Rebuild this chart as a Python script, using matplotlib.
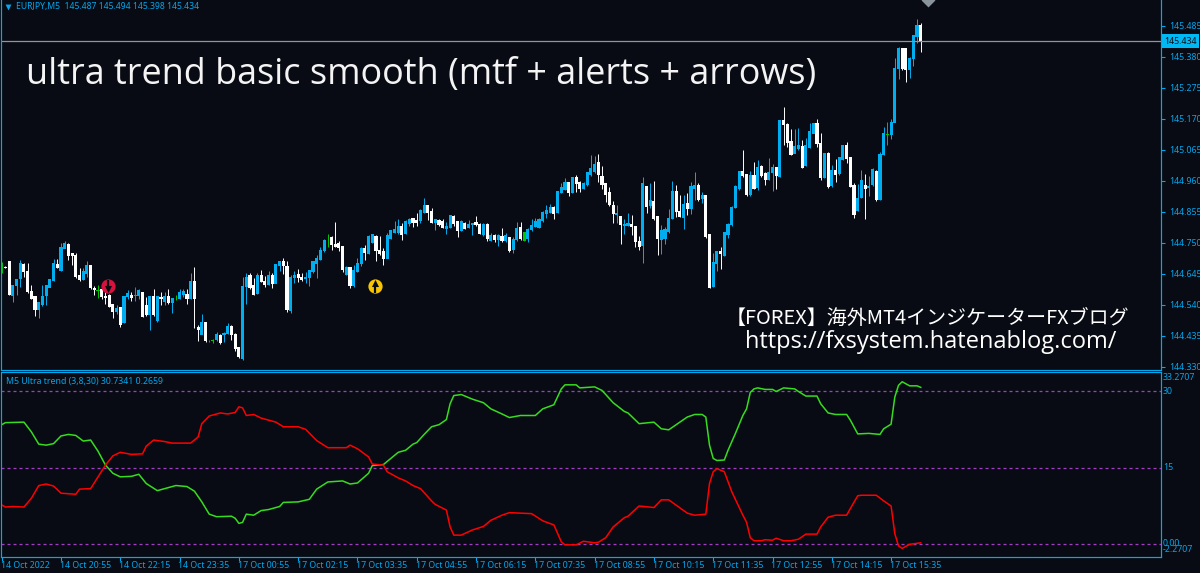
import matplotlib
matplotlib.use('Agg')
import numpy as np
import matplotlib.pyplot as plt

# candle data, in points above 144.000 (1 point = 0.001), bars 0..248
open_pts = [667,668,686,569,603,629,678,652,587,570,522,539,570,599,621,677,655,731,746,716,
            708,640,626,646,674,595,589,592,570,573,542,516,531,479,567,573,571,569,582,539,
            505,570,486,564,550,567,547,563,561,573,575,559,618,465,440,482,417,419,420,437,
            437,443,468,440,397,358,601,641,607,576,641,620,609,641,613,671,689,671,520,630,
            643,633,628,632,652,678,694,722,766,769,746,750,737,641,667,605,652,678,733,714,
            752,773,726,720,697,765,784,784,807,782,816,833,825,824,852,878,856,819,827,824,
            799,802,841,822,791,816,801,810,819,813,776,813,757,774,760,773,756,769,726,760,
            802,757,765,793,805,802,824,850,852,872,852,920,931,954,920,971,954,935,946,980,
            991,1023,974,952,921,878,845,839,808,808,814,807,756,739,940,875,892,839,762,765,
            788,833,923,856,836,884,867,935,946,901,910,779,601,680,720,706,776,810,869,932,
            991,982,912,980,937,1008,986,965,986,1006,974,1164,1152,1093,1053,1070,1078,1010,1074,1121,
            1155,1089,972,1053,944,997,983,1033,1082,1039,946,859,904,946,938,946,993,897,1049,1117,
            1115,1158,1339,1409,1409,1338,1373,1449,1487]
close_pts = [667,667,573,607,627,680,652,584,561,522,547,570,607,627,680,665,736,748,705,705,
             635,626,652,674,599,592,589,567,565,533,518,527,474,567,578,565,571,590,501,505,
             567,505,567,560,570,547,561,563,582,584,559,618,561,457,482,418,417,419,440,411,
             443,468,440,392,364,604,633,599,575,641,618,607,641,613,678,688,671,522,633,641,
             630,626,633,656,686,697,726,759,766,745,737,735,658,667,604,658,680,733,718,771,
             779,722,714,697,776,793,796,807,776,822,831,819,819,859,878,852,818,830,810,802,
             805,842,816,791,822,799,813,816,810,782,814,763,774,762,776,756,774,722,762,798,
             763,785,797,810,824,831,852,859,872,848,926,938,955,920,972,952,935,952,988,1002,
             1017,980,948,912,878,848,850,810,814,816,805,754,737,952,872,893,830,765,793,796,
             833,923,856,839,881,867,940,946,897,912,771,598,683,720,712,784,814,869,940,994,
             976,912,980,935,1006,976,965,988,1006,976,1166,1149,1091,1048,1076,1082,1006,1082,1127,1155,
             1087,972,1053,940,995,980,1039,1079,1036,940,844,901,961,932,943,1000,895,1051,1121,1117,
             1158,1341,1411,1339,1336,1375,1452,1488,1434]
high_pts = [686,670,686,607,627,691,680,680,607,570,547,607,607,627,694,694,750,756,748,716,
            714,663,663,689,674,603,607,607,584,578,542,539,531,569,590,584,599,592,584,567,
            569,595,569,582,584,592,561,573,592,592,592,646,669,471,508,482,420,423,446,440,
            446,477,471,443,397,634,646,649,630,646,658,637,656,646,678,689,697,689,641,654,
            660,649,652,658,689,709,737,762,779,774,819,756,737,671,669,675,697,737,743,776,
            780,776,773,731,782,793,824,830,818,827,833,835,850,863,901,878,867,830,831,830,
            822,844,844,822,827,822,827,818,841,816,816,816,782,780,780,799,782,771,771,819,
            819,788,799,830,833,833,859,878,881,875,926,954,969,957,972,980,961,957,991,1048,
            1044,1051,1010,954,940,892,878,841,830,850,844,807,773,974,940,952,960,841,810,802,
            864,961,946,912,912,920,957,991,952,923,912,779,716,720,737,784,816,875,946,994,
            1065,982,995,1025,1031,1014,991,1036,1017,1008,1166,1211,1155,1135,1136,1138,1098,1104,1157,1157,
            1171,1121,1056,1057,1014,1034,1042,1082,1093,1042,954,948,997,982,976,1002,997,1059,1144,1158,
            1169,1375,1415,1411,1409,1379,1454,1507,1494]
low_pts = [646,665,573,550,573,601,635,581,561,501,494,535,539,599,621,663,655,731,691,674,
           629,621,623,635,592,573,564,561,542,533,496,508,465,477,561,553,553,561,497,501,
           454,501,482,539,539,544,513,556,559,565,542,559,460,418,440,414,414,412,418,407,
           414,440,420,384,361,352,543,594,573,576,618,601,607,598,613,654,643,517,511,613,
           618,622,613,604,646,632,692,720,737,726,735,722,652,641,596,601,650,671,692,712,
           748,689,709,675,697,763,782,779,759,780,807,802,808,816,852,827,816,793,807,799,
           780,799,807,771,791,796,799,776,807,780,773,756,756,754,739,754,754,720,714,757,
           760,757,754,791,802,799,822,833,850,832,850,918,929,910,918,923,923,931,943,978,
           988,957,931,889,876,816,816,746,780,807,776,737,726,683,852,867,827,709,712,746,
           784,830,836,836,796,844,848,895,893,884,765,596,601,656,660,705,765,808,867,929,
           974,909,909,931,929,972,946,963,927,931,974,1082,1076,1048,1053,1065,1004,1010,1070,1121,
           1074,963,969,935,940,957,980,1031,1019,938,835,858,901,831,909,944,893,895,1048,1082,
           1102,1158,1305,1336,1296,1307,1350,1426,1398]
green_bars = [0, 26, 36, 47, 56, 57, 88, 141, 239]

green_x = [0,1,6,8,10,12,14,16,18,20,22,24,26,28,30,32,35,37,39,42,45,47,50,52,54,56,58,62,63,64,65,66,68,70,72,75,76,80,83,85,
           88,92,94,96,99,100,103,107,109,111,112,114,116,118,120,121,122,124,127,130,132,135,137,140,144,146,149,151,152,155,156,160,162,165,168,169,172,176,178,180,
           185,187,189,190,191,192,193,195,196,198,200,201,202,203,204,206,208,209,211,214,215,217,220,221,223,225,228,229,231,234,237,238,240,241,242,243,245,247,248]
green_y = [23.4,23.8,23.9,22.0,19.6,19.4,19.7,21.2,21.5,21.3,20.2,20.4,18.2,15.5,13.9,13.2,13.3,13.7,11.9,10.5,11.1,11.5,11.3,10.4,8.3,5.9,5.4,5.5,5.1,4.1,4.3,5.9,5.7,6.6,6.8,7.4,8.2,8.3,8.8,10.8,
           12.2,12.4,11.8,12.0,13.9,15.4,15.6,18.0,18.4,19.6,19.9,21.5,23.0,23.4,24.4,27.5,29.1,29.3,28.4,27.7,26.5,25.5,24.8,25.2,25.2,26.5,27.3,30.4,31.2,31.2,30.6,30.8,30.1,27.7,26.0,25.7,23.6,23.9,22.6,22.4,
           24.9,25.4,25.4,24.9,19.4,16.8,16.4,16.5,18.4,21.7,25.2,26.5,29.7,30.4,30.6,30.3,30.3,29.9,30.6,30.4,29.9,29.0,29.0,27.5,25.7,25.4,25.4,24.3,21.6,21.7,21.5,22.6,23.5,28.8,31.1,31.8,31.0,31.0,30.7]
red_x = [0,1,3,6,8,10,12,14,16,20,21,24,26,28,30,32,35,38,39,41,44,46,51,53,54,56,59,61,63,64,65,66,68,70,74,76,80,82,85,88,
         93,94,96,99,100,103,104,107,109,111,113,116,117,120,121,122,124,127,130,132,135,137,143,146,149,151,152,155,157,160,161,163,165,168,169,172,176,178,180,185,
         187,190,191,192,193,195,197,200,201,202,203,205,206,208,209,211,213,215,217,220,221,223,225,228,229,231,232,236,238,240,241,242,243,245,248]
red_y = [7.7,7.3,7.4,7.3,9.0,11.5,11.8,11.4,10.0,9.8,10.8,10.9,13.2,15.5,17.3,18.0,17.6,17.7,19.2,20.4,20.1,19.8,19.8,21.0,23.6,25.1,25.7,25.5,25.8,26.9,26.7,25.2,25.4,24.7,23.9,23.0,23.0,22.5,20.3,18.9,
         18.9,19.4,18.7,17.1,15.7,15.5,14.2,13.0,12.4,11.5,10.9,8.5,7.8,6.7,3.4,1.8,1.8,2.8,3.5,4.7,5.7,6.2,6.0,4.6,3.8,0.5,-0.1,-0.1,0.6,0.3,0.4,1.3,3.4,5.2,5.5,7.5,7.2,8.7,8.7,6.1,
         5.7,5.9,11.9,14.2,14.8,14.2,10.3,5.7,4.3,1.3,0.7,0.7,0.9,0.8,1.2,0.7,0.7,1.0,2.0,2.0,3.4,5.3,5.7,5.7,7.0,9.5,9.6,9.6,8.5,7.5,2.1,-0.3,-0.8,0.0,0.3]
levels = [30, 15, 0]

price_ticks = [145.485, 145.38, 145.275, 145.17, 145.065, 144.96, 144.855, 144.75, 144.645, 144.54, 144.435, 144.33]
last_price = 145.434
time_labels = ['14 Oct 2022', '14 Oct 20:55', '14 Oct 22:15', '14 Oct 23:35', '17 Oct 00:55', '17 Oct 02:15',
               '17 Oct 03:35', '17 Oct 04:55', '17 Oct 06:15', '17 Oct 07:35', '17 Oct 08:55', '17 Oct 10:15',
               '17 Oct 11:35', '17 Oct 12:55', '17 Oct 14:15', '17 Oct 15:35']

BG = '#090b14'
CYAN = '#00aeef'
AXIS = '#00a8ee'
W, H = 1200, 573

plt.rcParams['font.family'] = ['Noto Sans', 'DejaVu Sans']
fig = plt.figure(figsize=(W / 100, H / 100), dpi=100, facecolor=BG)

# main pane
ax = fig.add_axes([1 / W, (H - 370) / H, 1159.5 / W, 370 / H], facecolor=BG)
o = 144 + np.array(open_pts) / 1000
c = 144 + np.array(close_pts) / 1000
hi = 144 + np.array(high_pts) / 1000
lo = 144 + np.array(low_pts) / 1000
bars = np.arange(len(o))
cols = np.where(c >= o, CYAN, '#ffffff').astype(object)
cols[green_bars] = '#00c800'

ax.vlines(bars, lo, hi, colors=list(cols), lw=0.7)
ax.bar(bars, np.abs(c - o) + 0.002, bottom=np.minimum(o, c) - 0.001, width=0.84, color=list(cols), linewidth=0)
ax.axhline(last_price, color='#8e959e', lw=0.9)

ax.set_xlim(-0.19, 312.7)
ax.set_ylim(144.3188, 145.5731)
ax.set_xticks([])
ax.yaxis.tick_right()
ax.set_yticks(price_ticks, [f'{p:.3f}' for p in price_ticks])
ax.tick_params(axis='y', colors=AXIS, length=3, width=0.8, pad=3, labelsize=6.3)
for s in ax.spines.values():
    s.set_color(AXIS)
    s.set_linewidth(0.85)
ax.spines['top'].set_visible(False)

ax.text(1.0035, last_price, f'{last_price:.3f}', transform=ax.get_yaxis_transform(), color=BG, fontsize=6.3,
        va='center', ha='left', bbox=dict(facecolor='#00b8f4', edgecolor='none', pad=1.6))

# arrows on the chart
ax.scatter([28.7], [144.603], s=105, color='#d8123c', zorder=4, linewidths=0)
ax.scatter([28.7], [144.612], s=30, marker='|', color=BG, zorder=5, linewidths=1.6)
ax.scatter([28.7], [144.593], s=26, marker='v', color=BG, zorder=5, linewidths=0)
ax.scatter([100.8], [144.604], s=105, color='#f7c600', zorder=4, linewidths=0)
ax.scatter([100.8], [144.595], s=30, marker='|', color=BG, zorder=5, linewidths=1.6)
ax.scatter([100.8], [144.614], s=26, marker='^', color=BG, zorder=5, linewidths=0)
ax.scatter([250], [145.573], s=50, marker='D', color='#8a929c', zorder=4, linewidths=0, clip_on=True)

ax.text(15 / 1159.5, 1 - 7 / 370, 'EURJPY,M5  145.487 145.494 145.398 145.434', transform=ax.transAxes,
        color=AXIS, fontsize=6.2, va='center')
ax.scatter([7 / 1159.5], [1 - 7 / 370], s=18, marker='v', color=AXIS, transform=ax.transAxes, linewidths=0)

fig.text(26 / W, 1 - 75 / H, 'ultra trend basic smooth (mtf + alerts + arrows)', color='#f4f4f4',
         fontsize=25.9, va='center', ha='left', family=['Open Sans', 'DejaVu Sans'])
fig.text(927 / W, 1 - 318 / H, '【FOREX】海外MT4インジケーターFXブログ', color='#ffffff', fontsize=14.4,
         va='center', ha='center', family=['Noto Sans CJK JP', 'DejaVu Sans'])
fig.text(931 / W, 1 - 342 / H, 'https://fxsystem.hatenablog.com/', color='#ffffff', fontsize=17,
         va='center', ha='center', family=['Open Sans', 'DejaVu Sans'])

# indicator pane
ax2 = fig.add_axes([1 / W, (H - 556.7) / H, 1159.5 / W, 184.4 / H], facecolor=BG)
for lv in levels:
    ax2.axhline(lv, color='#a23ec4', lw=0.9, dashes=(2.4, 2.4))
ax2.plot(green_x, green_y, color='#36dc1e', lw=1.1)
ax2.plot(red_x, red_y, color='#ff0000', lw=1.1)
ax2.set_xlim(-0.19, 312.7)
ax2.set_ylim(-2.42, 33.65)
ax2.yaxis.tick_right()
ax2.set_yticks([])
ax2.set_xticks(range(0, 241, 16), [''] * 16)
ax2.tick_params(axis='x', colors=AXIS, length=3, width=0.8)
for s in ax2.spines.values():
    s.set_color(AXIS)
    s.set_linewidth(0.85)

for k, lab in enumerate(time_labels):
    ax2.text(k * 16 - 0.3, -9 / 184.4, lab, transform=ax2.get_xaxis_transform(), color=AXIS, fontsize=6.3,
             va='center', ha='left', clip_on=False)
for lab, ypx in [('33.2707', 378), ('30', 391), ('15', 468), ('0.00', 544), ('-2.2707', 550)]:
    fig.text(1163 / W, 1 - ypx / H, lab, color=AXIS, fontsize=6.3, va='center', ha='left')
ax2.text(5 / 1159.5, 1 - 9 / 184.4, 'M5 Ultra trend (3,8,30) 30.7341 0.2659', transform=ax2.transAxes,
         color=AXIS, fontsize=6.3, va='center')

fig.savefig('out.png', dpi=100, facecolor=BG)
